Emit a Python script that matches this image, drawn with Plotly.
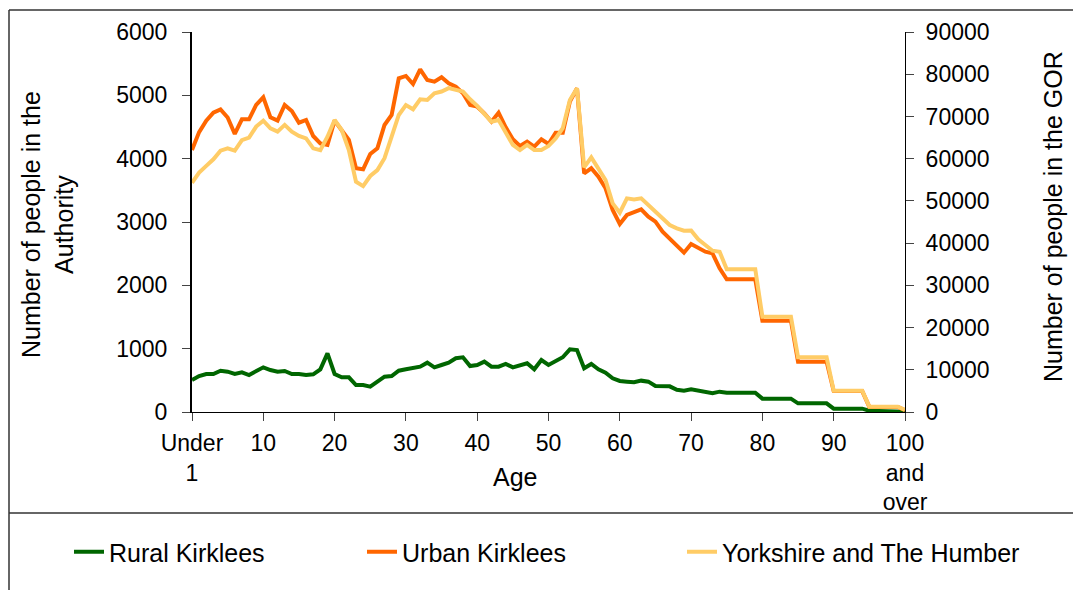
import plotly.graph_objects as go

# ---------------- data ----------------
ages = list(range(0, 101))

rural_kirklees = [
    505, 568, 600, 600, 652, 636, 600, 626, 584, 652,      # 0-9
    705, 663, 636, 647, 600, 600, 584, 595, 674, 926,      # 10-19
    600, 547, 547, 426, 426, 400, 479, 558, 568, 652,      # 20-29
    674, 690, 716, 779, 705, 742, 779, 848, 864, 726,      # 30-39
    742, 795, 716, 716, 758, 705, 742, 769, 674, 821,      # 40-49
    742, 811, 864, 990, 979, 690, 758, 674, 621, 532,      # 50-59
    490, 479, 469, 495, 479, 410, 410, 405, 350, 337,      # 60-69
    358, 337, 321, 295, 321, 305, 305, 305, 305, 305,      # 70-79
    211, 211, 211, 211, 211, 137, 137, 137, 137, 137,      # 80-89
    53, 53, 53, 53, 53, 20, 20, 20, 20, 20,                # 90-99
    5,                                                     # 100+
]

urban_kirklees = [
    4137, 4420, 4600, 4726, 4779, 4650, 4390, 4621, 4621, 4848,   # 0-9
    4969, 4653, 4600, 4848, 4753, 4568, 4611, 4358, 4242, 4216,   # 10-19
    4600, 4453, 4295, 3848, 3832, 4074, 4163, 4532, 4690, 5269,   # 20-29
    5306, 5179, 5411, 5242, 5216, 5285, 5190, 5137, 5032, 4848,   # 30-39
    4821, 4716, 4584, 4726, 4495, 4306, 4200, 4268, 4190, 4306,   # 40-49
    4232, 4411, 4411, 4900, 5111, 3769, 3848, 3716, 3532, 3190,   # 50-59
    2969, 3111, 3148, 3200, 3084, 3005, 2847, 2742, 2637, 2516,   # 60-69
    2653, 2600, 2532, 2505, 2269, 2095, 2095, 2095, 2095, 2095,   # 70-79
    1442, 1442, 1442, 1442, 1442, 795, 795, 795, 795, 795,        # 80-89
    330, 330, 330, 330, 330, 80, 80, 80, 80, 80,                  # 90-99
    30,                                                           # 100+
]

yorkshire_humber = [
    54300, 56700, 58300, 59850, 61900, 62450, 61900, 64400, 64970, 67600,   # 0-9
    69000, 67200, 66400, 68000, 66400, 65400, 64800, 62450, 62000, 65200,   # 10-19
    69150, 66800, 62050, 54550, 53500, 55900, 57300, 60100, 65200, 70350,   # 20-29
    72700, 71700, 74050, 73900, 75500, 75900, 76700, 76400, 75900, 74050,   # 30-39
    72500, 70600, 68750, 69150, 66000, 63250, 62050, 63250, 62050, 62050,   # 40-49
    63000, 64800, 67200, 73900, 76700, 57950, 60300, 57500, 54950, 49400,   # 50-59
    47200, 50600, 50350, 50600, 49000, 47450, 45850, 44300, 43500, 42950,   # 60-69
    43000, 40900, 39550, 38200, 37950, 33800, 33800, 33800, 33800, 33800,   # 70-79
    22570, 22570, 22570, 22570, 22570, 12950, 12950, 12950, 12950, 12950,   # 80-89
    5050, 5050, 5050, 5050, 5050, 1260, 1260, 1260, 1260, 1260,             # 90-99
    500,                                                                    # 100+
]

x_tick_vals = [0, 10, 20, 30, 40, 50, 60, 70, 80, 90, 100]
x_tick_text = ["Under<br>1", "10", "20", "30", "40", "50", "60", "70", "80", "90",
               "100<br>and<br>over"]
left_ticks = [0, 1000, 2000, 3000, 4000, 5000, 6000]
right_ticks = [0, 10000, 20000, 30000, 40000, 50000, 60000, 70000, 80000, 90000]

# ---------------- layout geometry ----------------
W, H = 1073, 590
PL, PR, PT, PB = 192, 905, 32, 412   # plot area in pixels
ML, MR, MT, MB = PL, W - PR, PT, H - PB
PW, PH = PR - PL, PB - PT


def px(x):
    return (x - PL) / PW


def py(y):
    return (PB - y) / PH


FONT = "Liberation Sans, Arial, sans-serif"

fig = go.Figure()
fig.add_trace(go.Scatter(x=ages, y=rural_kirklees, name="Rural Kirklees", mode="lines",
                         line=dict(color="#006600", width=4), legend="legend"))
fig.add_trace(go.Scatter(x=ages, y=urban_kirklees, name="Urban Kirklees", mode="lines",
                         line=dict(color="#FF6600", width=4), legend="legend2"))
fig.add_trace(go.Scatter(x=ages, y=yorkshire_humber, name="Yorkshire and The Humber",
                         mode="lines", yaxis="y2",
                         line=dict(color="#FFCC66", width=4), legend="legend3"))

tickfont = dict(family=FONT, size=23, color="black")
legfont = dict(family=FONT, size=25, color="black")

fig.update_layout(
    width=W, height=H,
    margin=dict(l=ML, r=MR, t=MT, b=MB, pad=0),
    paper_bgcolor="white", plot_bgcolor="white",
    font=dict(family=FONT, size=23, color="black"),
    xaxis=dict(range=[0, 100], tickmode="array", tickvals=x_tick_vals, ticktext=x_tick_text,
               ticks="outside", ticklen=8, tickcolor="#444", tickwidth=1,
               showline=True, linecolor="black", linewidth=1,
               showgrid=False, zeroline=False, tickfont=tickfont, ticklabelstandoff=2),
    yaxis=dict(range=[0, 6000], tickmode="array", tickvals=left_ticks,
               ticks="outside", ticklen=8, tickcolor="#444", tickwidth=1,
               showline=True, linecolor="black", linewidth=2,
               showgrid=False, zeroline=False, tickfont=tickfont, ticklabelstandoff=10),
    yaxis2=dict(range=[0, 90000], tickmode="array", tickvals=right_ticks, tickformat="d",
                overlaying="y", side="right", anchor="x",
                ticks="outside", ticklen=8, tickcolor="#444", tickwidth=1,
                showline=True, linecolor="black", linewidth=1,
                showgrid=False, zeroline=False, tickfont=tickfont, ticklabelstandoff=7),
    yaxis3=dict(range=[0, 90000], tickmode="array", tickvals=right_ticks,
                overlaying="y", side="right", anchor="x",
                ticks="inside", ticklen=8, tickcolor="#444", tickwidth=1,
                showline=False, showticklabels=False,
                showgrid=False, zeroline=False),
    legend=dict(x=px(69), y=py(552), xanchor="left", yanchor="middle",
                font=legfont, bgcolor="rgba(0,0,0,0)"),
    legend2=dict(x=px(362), y=py(552), xanchor="left", yanchor="middle",
                 font=legfont, bgcolor="rgba(0,0,0,0)"),
    legend3=dict(x=px(682), y=py(552), xanchor="left", yanchor="middle",
                 font=legfont, bgcolor="rgba(0,0,0,0)"),
    showlegend=True,
)

# axis titles as annotations (positioned to match the reference)
fig.add_annotation(text="Age", x=px(515), y=py(477), xref="paper", yref="paper",
                   showarrow=False, font=dict(family=FONT, size=25, color="black"),
                   xanchor="center", yanchor="middle")
fig.add_annotation(text="Number of people in the<br>Authority", x=px(47), y=py(225),
                   xref="paper", yref="paper", showarrow=False, textangle=-90,
                   font=dict(family=FONT, size=25, color="black"),
                   xanchor="center", yanchor="middle")
fig.add_annotation(text="Number of people in the GOR", x=px(1053), y=py(217),
                   xref="paper", yref="paper", showarrow=False, textangle=-90,
                   font=dict(family=FONT, size=25, color="black"),
                   xanchor="center", yanchor="middle")

# chart frame lines
frame = dict(color="#333333", width=1.5)
fig.add_shape(type="line", xref="paper", yref="paper", x0=px(9), x1=px(9),
              y0=py(10), y1=py(600), line=frame)
fig.add_shape(type="line", xref="paper", yref="paper", x0=px(9), x1=px(1080),
              y0=py(10), y1=py(10), line=frame)
fig.add_shape(type="line", xref="paper", yref="paper", x0=px(9), x1=px(1080),
              y0=py(513), y1=py(513), line=frame)

fig.write_html(
    "out.html",
    config={"displayModeBar": False},
    post_script="document.body.style.margin='0';document.body.style.padding='0';"
                "document.body.style.overflow='hidden';",
)
